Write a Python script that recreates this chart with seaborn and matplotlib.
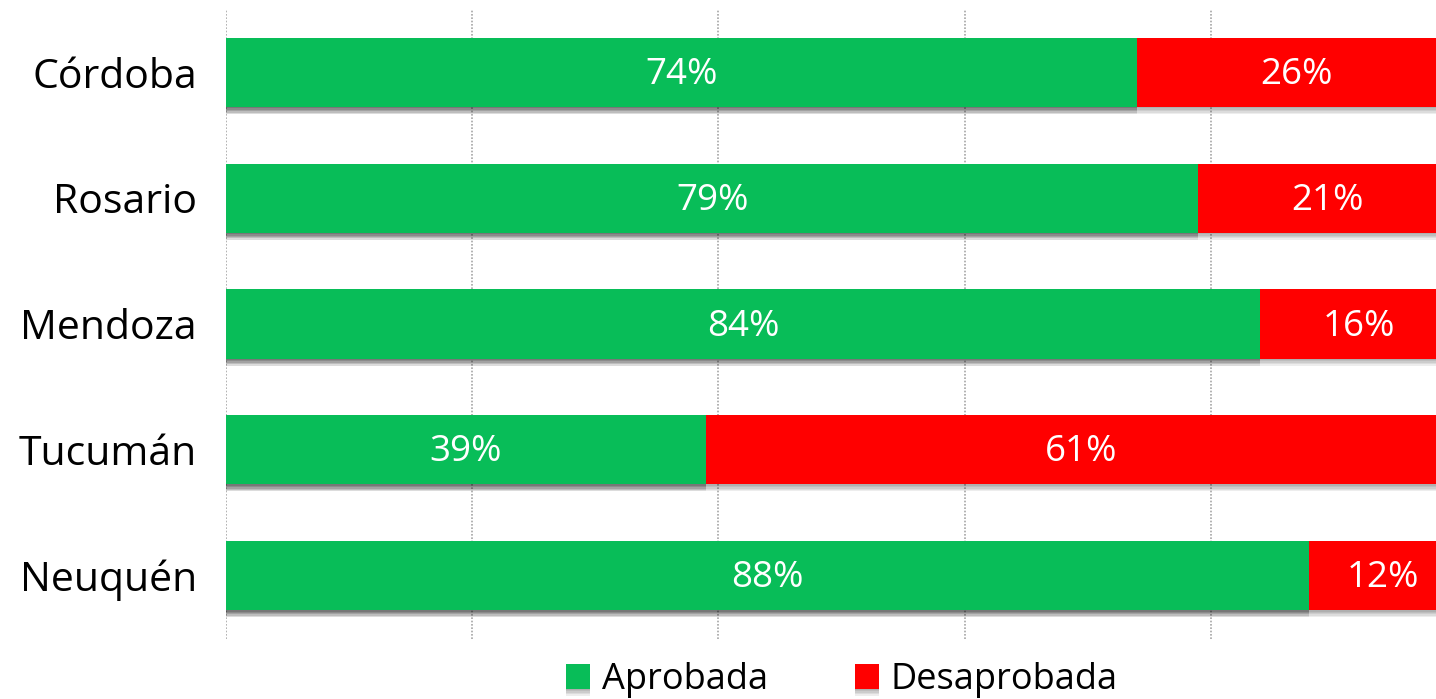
import matplotlib
matplotlib.use("Agg")
import matplotlib.pyplot as plt
import matplotlib.patheffects as pe
import seaborn as sns
import pandas as pd

cities = ["Córdoba", "Rosario", "Mendoza", "Tucumán", "Neuquén"]
aprobada = [74, 79, 84, 39, 88]
desaprobada = [26, 21, 16, 61, 12]
series_names = ["Aprobada", "Desaprobada"]

GREEN = "#08BD58"
RED = "#FF0000"

sns.set_theme(style="white")
plt.rcParams["font.family"] = ["Open Sans", "DejaVu Sans"]
plt.rcParams["text.color"] = "black"

df = pd.DataFrame({"ciudad": cities, "aprobada": aprobada, "desaprobada": desaprobada})
df["total"] = df["aprobada"] + df["desaprobada"]

fig = plt.figure(figsize=(14.36, 6.99), dpi=100)
# axes extends slightly past the right edge of the canvas
ax = fig.add_axes([226 / 1436, 1 - 638.5 / 699, (1457 - 226) / 1436, 629 / 699])

# soft drop shadow under each bar
shadow = [pe.SimplePatchShadow(offset=(0, -k), shadow_rgbFace="#000000", alpha=0.07)
          for k in (1.0, 2.0, 3.0, 4.0, 5.0)] + [pe.Normal()]

sns.barplot(data=df, x="total", y="ciudad", orient="h", color=RED, width=0.55,
            saturation=1, ax=ax, label=series_names[1])
sns.barplot(data=df, x="aprobada", y="ciudad", orient="h", color=GREEN, width=0.55,
            saturation=1, ax=ax, label=series_names[0])

for p in ax.patches:
    p.set_path_effects(shadow)
    p.set_linewidth(0)

for i, (a, d) in enumerate(zip(aprobada, desaprobada)):
    ax.text(a / 2, i + 0.02, f"{a}%", ha="center", va="center", color="white", fontsize=26.5)
    ax.text(a + d / 2, i + 0.02, f"{d}%", ha="center", va="center", color="white", fontsize=26.5)

ax.set_xlim(0, 100)
ax.set_ylim(4.5, -0.5)
ax.set_xticks([0, 20, 40, 60, 80, 100])
ax.set_xticklabels([])
ax.xaxis.grid(True, linestyle=(0, (1, 1)), color="#A6A6A6", linewidth=1.2)
ax.set_axisbelow(True)
for s in ax.spines.values():
    s.set_visible(False)
ax.set_xlabel("")
ax.set_ylabel("")
ax.tick_params(axis="y", labelsize=29.5, pad=21, length=0, labelcolor="black")
ax.tick_params(axis="x", length=0)

handles, labels = ax.get_legend_handles_labels()
order = [labels.index(n) for n in series_names]
leg = fig.legend([handles[k] for k in order], [labels[k] for k in order],
                 loc="center", bbox_to_anchor=(842 / 1436, 1 - 680 / 699), ncol=2,
                 frameon=False, fontsize=26, handlelength=0.67, handleheight=0.67,
                 handletextpad=0.33, columnspacing=2.4)
for t in leg.get_texts():
    t.set_color("black")
if ax.get_legend() is not None:
    ax.get_legend().remove()

fig.savefig("out.png", dpi=100)
